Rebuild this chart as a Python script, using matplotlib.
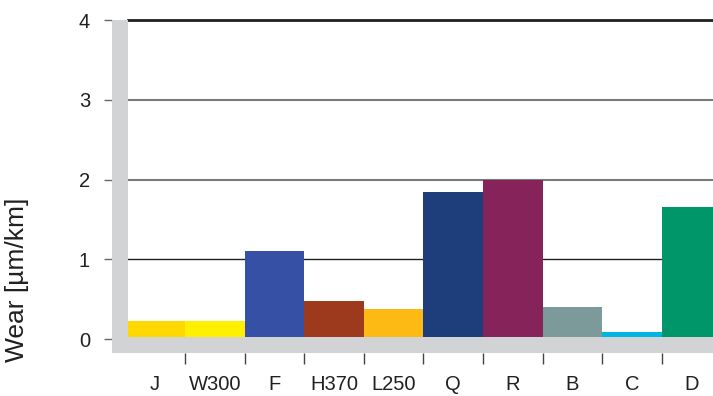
import matplotlib
matplotlib.use("Agg")
import matplotlib.pyplot as plt
import numpy as np

plt.rcParams['font.family'] = ['Liberation Sans', 'DejaVu Sans']

# data
materials = ['J', 'W300', 'F', 'H370', 'L250', 'Q', 'R', 'B', 'C', 'D']
wear = [0.22, 0.22, 1.10, 0.48, 0.37, 1.84, 2.00, 0.40, 0.09, 1.66]
colors = ['#FFD800', '#FFF000', '#3650A5', '#9D391C', '#FDB914',
          '#1D3D7B', '#86235A', '#7D9A9B', '#00B6E0', '#00966A']
y_ticks = [0, 1, 2, 3, 4]

grey = '#D1D3D4'

fig = plt.figure(figsize=(7.13, 3.96), dpi=100)
ax = fig.add_axes([112 / 713, 43 / 396, 601 / 713, 333 / 396])

x_left, x_right = -0.225, 9.86
ax.set_xlim(x_left, x_right)
ax.set_ylim(-0.1755, 4)

wall_right = 0.044
floor_top = 0.025

# horizontal grid lines
grid_style = {4: ('#231F20', 2.0), 3: ('#7A7A7A', 1.5), 2: ('#7A7A7A', 1.5), 1: ('#231F20', 1.0)}
xmin_frac = (wall_right - x_left) / (x_right - x_left)
for yv, (c, lw) in grid_style.items():
    ax.axhline(yv, xmin=xmin_frac, xmax=1, color=c, lw=lw, zorder=1, clip_on=False)

# bars, adjacent, no gap
ax.bar(np.arange(len(materials)), wear, width=1.0, align='edge',
       color=colors, zorder=2)

# grey "3D" wall and floor
ax.axvspan(x_left, wall_right, color=grey, zorder=3, lw=0)
ax.axhspan(-0.1755, floor_top, color=grey, zorder=3, lw=0)

for s in ax.spines.values():
    s.set_visible(False)

ax.set_yticks(y_ticks)
ax.set_yticklabels([str(v) for v in y_ticks])
ax.tick_params(axis='y', length=5.8, width=1.0, color='#666666', pad=10,
               labelsize=14.5, labelcolor='#231F20')

ax.set_xticks(np.arange(1, len(materials)))
ax.set_xticklabels([])
ax.tick_params(axis='x', which='major', length=8, width=1.0, color='#444444')
ax.set_xticks(np.arange(len(materials)) + 0.5, minor=True)
ax.set_xticklabels(materials, minor=True)
ax.tick_params(axis='x', which='minor', length=0, pad=16, labelsize=14.5,
               labelcolor='#231F20')
for lab in ax.get_xticklabels(minor=True):
    lab.set_x(lab.get_position()[0] - 0.05)

fig.text(17 / 713, 1 - 280 / 396, 'Wear [µm/km]', rotation=90,
         ha='center', va='center', fontsize=19, color='#231F20')

fig.savefig('out.png', dpi=100)
